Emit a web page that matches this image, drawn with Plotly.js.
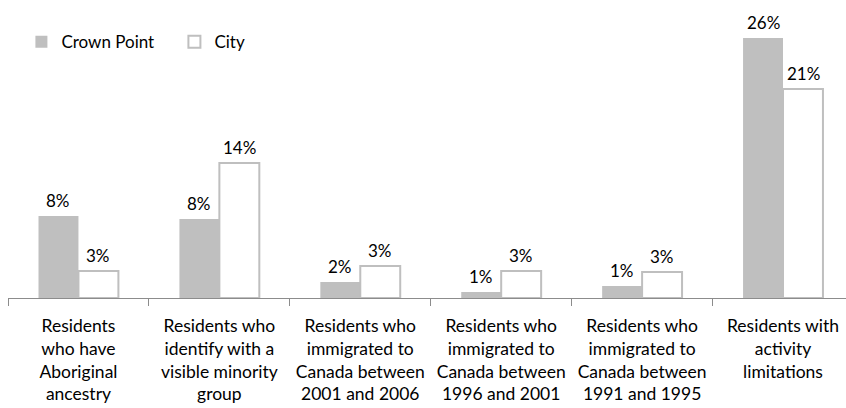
<!DOCTYPE html>
<html>
<head>
<meta charset="utf-8">
<script src="https://cdn.plot.ly/plotly-3.0.1.min.js"></script>
<style>html,body{margin:0;padding:0;background:#fff;}#chart{width:846px;height:408px;}</style>
</head>
<body>
<div id="chart"></div>
<script>
// Data
const categories = [
  "Residents<br>who have<br>Aboriginal<br>ancestry",
  "Residents who<br>identify with a<br>visible minority<br>group",
  "Residents who<br>immigrated to<br>Canada between<br>2001 and 2006",
  "Residents who<br>immigrated to<br>Canada between<br>1996 and 2001",
  "Residents who<br>immigrated to<br>Canada between<br>1991 and 1995",
  "Residents with<br>activity<br>limitations"
];
const crownPoint = [8.2, 7.9, 1.6, 0.6, 1.2, 26.0];
const city = [2.7, 13.5, 3.2, 2.7, 2.6, 20.9];
const crownPointLabels = ["8%", "8%", "2%", "1%", "1%", "26%"];
const cityLabels = ["3%", "14%", "3%", "3%", "3%", "21%"];

const FONT = "Lato, 'Open Sans', sans-serif";
const gray = "#bfbfbf";

const traces = [
  {
    type: "bar", name: "Crown Point", x: categories, y: crownPoint,
    marker: {color: gray, line: {width: 0}},
    hoverinfo: "skip"
  },
  {
    type: "bar", name: "City", x: categories, y: city,
    marker: {color: "#ffffff", line: {color: gray, width: 2}},
    hoverinfo: "skip"
  }
];

const barOffset = 0.142;
const annotations = [];
crownPoint.forEach((v, i) => annotations.push({
  x: i - barOffset, y: v, xref: "x", yref: "y", text: crownPointLabels[i],
  showarrow: false, yanchor: "bottom", yshift: 3, font: {family: FONT, size: 17, color: "#000"}
}));
city.forEach((v, i) => annotations.push({
  x: i + barOffset, y: v, xref: "x", yref: "y", text: cityLabels[i],
  showarrow: false, yanchor: "bottom", yshift: 3, font: {family: FONT, size: 17, color: "#000"}
}));

const layout = {
  width: 846, height: 408,
  margin: {l: 8, r: 0, t: 18, b: 110},
  paper_bgcolor: "#fff", plot_bgcolor: "#fff",
  barmode: "group", bargap: 0.433, bargroupgap: 0,
  font: {family: FONT, size: 17, color: "#000"},
  showlegend: true,
  legend: {
    orientation: "h", x: 0.016, xanchor: "left", y: 0.914, yanchor: "middle",
    font: {family: FONT, size: 17, color: "#000"},
    entrywidth: 108, entrywidthmode: "pixels", bgcolor: "rgba(0,0,0,0)"
  },
  xaxis: {
    type: "category", range: [-0.5, 5.447], fixedrange: true,
    showline: true, linecolor: "#8c8c8c", linewidth: 1,
    ticks: "outside", tickson: "boundaries", ticklen: 7, tickcolor: "#8c8c8c", tickwidth: 1,
    tickfont: {family: FONT, size: 17.5, color: "#000"},
    ticklabelstandoff: 12,
    showgrid: false, zeroline: false
  },
  yaxis: {
    range: [0, 28], visible: false, showgrid: false, zeroline: false, fixedrange: true
  },
  annotations: annotations
};

Plotly.newPlot("chart", traces, layout, {staticPlot: true, displayModeBar: false});
</script>
</body>
</html>
